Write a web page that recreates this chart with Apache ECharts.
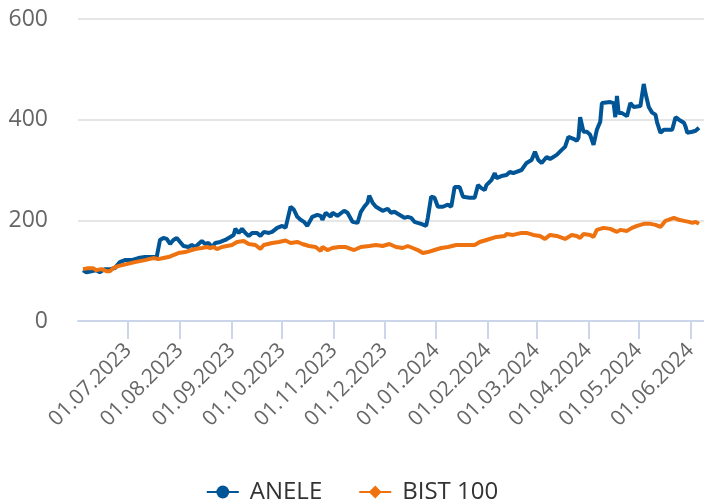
<!DOCTYPE html>
<html>
<head>
<meta charset="utf-8">
<script src="https://cdn.jsdelivr.net/npm/echarts@6/dist/echarts.min.js"></script>
<style>
  html, body { margin: 0; padding: 0; background: #fff; }
  #chart { width: 704px; height: 502px; }
</style>
</head>
<body>
<div id="chart"></div>
<script>
// ANELE vs BIST 100, indexed to 100
const aneleDates = [
  "2023-06-04", "2023-06-06", "2023-06-09", "2023-06-12", "2023-06-14", "2023-06-17", "2023-06-20", "2023-06-23",
  "2023-06-26", "2023-06-29", "2023-07-03", "2023-07-07", "2023-07-11", "2023-07-15", "2023-07-18", "2023-07-20",
  "2023-07-22", "2023-07-24", "2023-07-26", "2023-07-28", "2023-07-30", "2023-08-01", "2023-08-03", "2023-08-06",
  "2023-08-08", "2023-08-10", "2023-08-12", "2023-08-14", "2023-08-16", "2023-08-18", "2023-08-20", "2023-08-22",
  "2023-08-25", "2023-08-28", "2023-08-31", "2023-09-02", "2023-09-03", "2023-09-05", "2023-09-07", "2023-09-09",
  "2023-09-11", "2023-09-13", "2023-09-16", "2023-09-18", "2023-09-20", "2023-09-23", "2023-09-25", "2023-09-28",
  "2023-10-01", "2023-10-03", "2023-10-06", "2023-10-08", "2023-10-10", "2023-10-12", "2023-10-14", "2023-10-16",
  "2023-10-19", "2023-10-22", "2023-10-24", "2023-10-25", "2023-10-27", "2023-10-30", "2023-10-31", "2023-11-03",
  "2023-11-07", "2023-11-09", "2023-11-12", "2023-11-15", "2023-11-17", "2023-11-19", "2023-11-21", "2023-11-22",
  "2023-11-24", "2023-11-26", "2023-11-30", "2023-12-01", "2023-12-03", "2023-12-05", "2023-12-07", "2023-12-10",
  "2023-12-13", "2023-12-15", "2023-12-17", "2023-12-19", "2023-12-21", "2023-12-23", "2023-12-26", "2023-12-27",
  "2023-12-29", "2023-12-31", "2024-01-02", "2024-01-05", "2024-01-08", "2024-01-10", "2024-01-12", "2024-01-15",
  "2024-01-17", "2024-01-21", "2024-01-24", "2024-01-26", "2024-01-28", "2024-01-30", "2024-01-31", "2024-02-03",
  "2024-02-05", "2024-02-06", "2024-02-09", "2024-02-12", "2024-02-14", "2024-02-16", "2024-02-21", "2024-02-24",
  "2024-02-27", "2024-02-29", "2024-03-02", "2024-03-04", "2024-03-07", "2024-03-09", "2024-03-11", "2024-03-13",
  "2024-03-16", "2024-03-18", "2024-03-20", "2024-03-23", "2024-03-25", "2024-03-26", "2024-03-27", "2024-03-29",
  "2024-03-31", "2024-04-02", "2024-04-04", "2024-04-06", "2024-04-08", "2024-04-09", "2024-04-14", "2024-04-16",
  "2024-04-17", "2024-04-18", "2024-04-19", "2024-04-21", "2024-04-24", "2024-04-26", "2024-04-28", "2024-05-02",
  "2024-05-04", "2024-05-05", "2024-05-07", "2024-05-09", "2024-05-11", "2024-05-12", "2024-05-14", "2024-05-16",
  "2024-05-21", "2024-05-23", "2024-05-25", "2024-05-28", "2024-05-29", "2024-05-30", "2024-06-02", "2024-06-04",
  "2024-06-06"
];
const aneleValues = [
  101, 97, 99, 101, 97, 103, 103, 105,
  117, 121, 121, 125, 127, 127, 127, 161,
  165, 163, 153, 161, 165, 157, 149, 147,
  151, 147, 153, 159, 153, 155, 147, 155,
  157, 161, 167, 171, 183, 175, 183, 175,
  169, 175, 175, 169, 177, 175, 177, 185,
  189, 185, 227, 221, 207, 201, 197, 189,
  207, 211, 209, 201, 215, 207, 215, 209,
  219, 215, 197, 195, 217, 227, 235, 249,
  235, 227, 219, 221, 223, 215, 217, 211,
  205, 207, 205, 197, 195, 193, 189, 205,
  247, 245, 227, 227, 231, 227, 266, 266,
  247, 245, 245, 270, 264, 260, 270, 280,
  294, 284, 288, 290, 296, 294, 300, 314,
  320, 336, 320, 314, 326, 322, 326, 330,
  340, 346, 366, 362, 358, 364, 405, 376,
  376, 370, 350, 380, 396, 433, 435, 433,
  405, 447, 413, 413, 407, 433, 425, 427,
  471, 453, 425, 414, 410, 394, 374, 380,
  380, 405, 400, 394, 386, 374, 376, 378,
  384
];

const bistDates = [
  "2023-06-04", "2023-06-07", "2023-06-10", "2023-06-12", "2023-06-15", "2023-06-18", "2023-06-20", "2023-06-22",
  "2023-06-25", "2023-06-30", "2023-07-05", "2023-07-11", "2023-07-16", "2023-07-19", "2023-07-22", "2023-07-25",
  "2023-07-28", "2023-07-31", "2023-08-04", "2023-08-08", "2023-08-10", "2023-08-14", "2023-08-17", "2023-08-19",
  "2023-08-21", "2023-08-23", "2023-08-26", "2023-08-29", "2023-09-01", "2023-09-04", "2023-09-08", "2023-09-11",
  "2023-09-15", "2023-09-18", "2023-09-20", "2023-09-25", "2023-09-29", "2023-10-03", "2023-10-06", "2023-10-10",
  "2023-10-13", "2023-10-17", "2023-10-21", "2023-10-24", "2023-10-25", "2023-10-28", "2023-10-31", "2023-11-04",
  "2023-11-08", "2023-11-13", "2023-11-17", "2023-11-22", "2023-11-26", "2023-11-30", "2023-12-04", "2023-12-08",
  "2023-12-12", "2023-12-15", "2023-12-18", "2023-12-21", "2023-12-24", "2023-12-27", "2023-12-31", "2024-01-04",
  "2024-01-08", "2024-01-13", "2024-01-19", "2024-01-24", "2024-01-27", "2024-01-31", "2024-02-06", "2024-02-11",
  "2024-02-12", "2024-02-16", "2024-02-21", "2024-02-24", "2024-02-28", "2024-03-03", "2024-03-06", "2024-03-09",
  "2024-03-13", "2024-03-18", "2024-03-22", "2024-03-25", "2024-03-27", "2024-03-29", "2024-04-02", "2024-04-04",
  "2024-04-06", "2024-04-10", "2024-04-14", "2024-04-18", "2024-04-20", "2024-04-24", "2024-04-27", "2024-04-30",
  "2024-05-04", "2024-05-08", "2024-05-11", "2024-05-14", "2024-05-17", "2024-05-22", "2024-05-25", "2024-05-28",
  "2024-05-31", "2024-06-02", "2024-06-04", "2024-06-06"
];
const bistValues = [
  103, 105, 105, 101, 103, 99, 99, 105,
  109, 113, 117, 121, 125, 123, 125, 127,
  131, 135, 137, 141, 143, 145, 147, 145,
  147, 143, 147, 149, 151, 157, 159, 153,
  151, 143, 151, 155, 157, 160, 155, 157,
  153, 149, 147, 139, 147, 141, 145, 147,
  147, 141, 147, 149, 151, 149, 153, 147,
  145, 149, 145, 141, 135, 137, 141, 145,
  147, 151, 151, 151, 157, 161, 167, 169,
  173, 171, 175, 175, 171, 169, 163, 171,
  169, 163, 171, 169, 165, 173, 171, 167,
  181, 185, 183, 177, 181, 179, 185, 189,
  193, 193, 191, 187, 199, 205, 201, 199,
  197, 195, 197, 193
];

const tickDates = [
  "2023-07-01", "2023-08-01", "2023-09-01", "2023-10-01", "2023-11-01", "2023-12-01",
  "2024-01-01", "2024-02-01", "2024-03-01", "2024-04-01", "2024-05-01", "2024-06-01"
];
const yTicks = [0, 200, 400, 600];

// dates -> timestamps, so a plain value axis can carry the month ticks
const toTime = d => +echarts.number.parseDate(d);
const tickValues = tickDates.map(toTime);

const chart = echarts.init(document.getElementById("chart"));
const option = {
  animation: false,
  textStyle: { fontFamily: "Open Sans" },
  grid: { left: 78, right: 0, top: 19, bottom: 181 },
  legend: {
    top: 475,
    left: "center",
    itemWidth: 32,
    itemHeight: 16,
    itemGap: 36,
    textStyle: { fontSize: 24, color: "#333", fontFamily: "Open Sans", padding: [0, 0, 0, 6] },
    data: ["ANELE", "BIST 100"]
  },
  xAxis: {
    type: "value",
    min: toTime("2023-06-01"),
    max: toTime("2024-06-09"),
    axisLine: { lineStyle: { color: "#ccd6eb", width: 2 } },
    axisTick: {
      show: true,
      length: 18,
      customValues: tickValues,
      lineStyle: { color: "#ccd6eb", width: 2 }
    },
    axisLabel: {
      customValues: tickValues,
      rotate: 45,
      margin: 26,
      fontSize: 21,
      color: "#666",
      formatter: v => echarts.time.format(v, "{dd}.{MM}.{yyyy}", false)
    },
    splitLine: { show: false }
  },
  yAxis: {
    type: "value",
    min: yTicks[0],
    max: yTicks[yTicks.length - 1],
    interval: 200,
    axisLine: { show: false },
    axisTick: { show: false },
    axisLabel: { fontSize: 23, color: "#666", margin: 30 },
    splitLine: { lineStyle: { color: "#e6e6e6", width: 2 } }
  },
  series: [
    {
      name: "ANELE",
      type: "line",
      symbol: "circle",
      showSymbol: false,
      color: "#005596",
      lineStyle: { width: 4 },
      data: aneleDates.map((d, i) => [toTime(d), aneleValues[i]])
    },
    {
      name: "BIST 100",
      type: "line",
      symbol: "diamond",
      showSymbol: false,
      color: "#ee7310",
      lineStyle: { width: 4 },
      data: bistDates.map((d, i) => [toTime(d), bistValues[i]])
    }
  ]
};
chart.setOption(option);
</script>
</body>
</html>
